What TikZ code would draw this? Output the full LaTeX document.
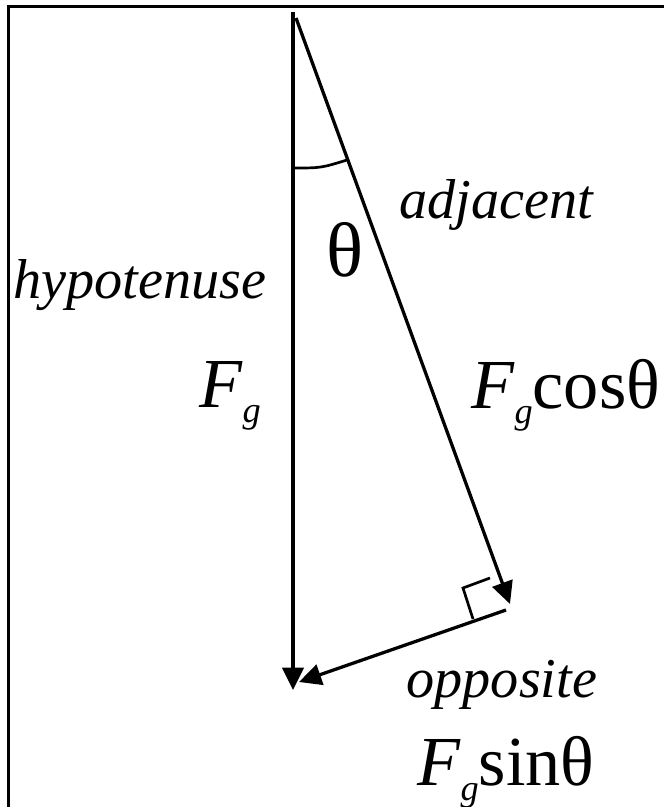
\documentclass[tikz,border=0pt]{standalone}
\usepackage{fontspec}
\setmainfont{Liberation Serif}
\usetikzlibrary{arrows.meta}
\newcommand{\Fg}{{\itshape F}\raisebox{-13pt}{\fontsize{31}{31}\selectfont\itshape g}}

\begin{document}
\begin{tikzpicture}[
  x=0.03cm, y=-0.03cm,
  every node/.style={inner sep=0pt,font=\fontsize{48}{48}\selectfont\itshape},
  big/.style={font=\fontsize{60}{60}\selectfont},
  line width=2.8pt, >={Triangle[length=19pt,width=18pt]}
]
  \useasboundingbox (0,0) rectangle (664,807);
  \draw (664,6.5) -- (8.5,6.5) -- (8.5,807);

  \coordinate (hyptop) at (293,12);
  \coordinate (hypend) at (293,690);
  \coordinate (adjtop) at (296,18);
  \coordinate (adjend) at (510,604);
  \coordinate (oppstart) at (506,610);
  \coordinate (oppend) at (299,682);

  \draw[->] (hyptop) -- (hypend);
  \draw[->] (adjtop) -- (adjend);
  \draw[->] (oppstart) -- (oppend);
  % right angle mark and angle arc
  \draw[line width=2.3pt] (490,578) -- (463,588) -- (473,619);
  \draw[line width=2.3pt] (293,168) .. controls (321,168) .. (347,160);

  \node[font=\fontsize{66}{66}\selectfont] (theta) at (345,250) {θ};
  \node[anchor=base west] (hyp) at (12,298) {hypotenuse};
  \node[anchor=base west] (adj) at (398,218) {adjacent};
  \node[anchor=base west] (opp) at (405,697) {opposite};
  \node[big,anchor=base west] (fg) at (198,407) {\Fg};
  \node[big,anchor=base west] (fcos) at (470,408) {\Fg cosθ};
  \node[big,anchor=base west] (fsin) at (416,785) {\Fg sinθ};
\end{tikzpicture}
\end{document}
